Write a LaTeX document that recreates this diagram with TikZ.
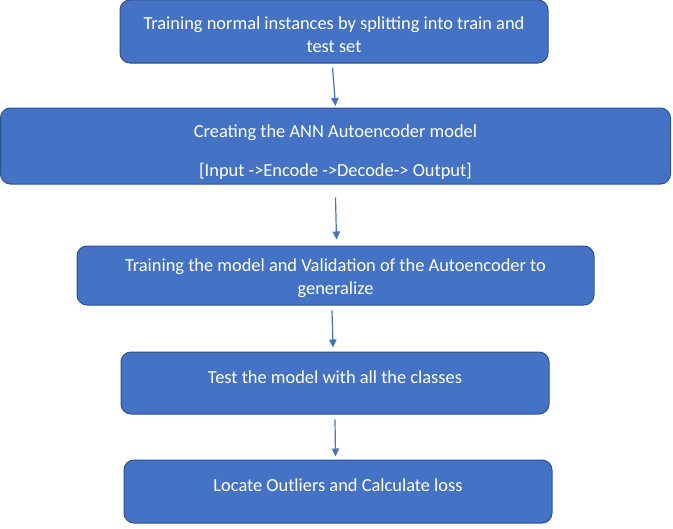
\documentclass[tikz,border=0pt]{standalone}
\usepackage{fontspec}
\setmainfont{Carlito}
\usetikzlibrary{arrows.meta,calc}
\definecolor{boxfill}{HTML}{4472C4}
\definecolor{boxline}{HTML}{2F528F}
\newcommand{\shiftedtext}[2]{\raisebox{#1}[0pt][0pt]{\begin{tabular}{@{}c@{}}#2\end{tabular}}}
\begin{document}
\begin{tikzpicture}[x=0.75pt,y=-0.75pt,
  stepbox/.style={draw=boxline,line width=0.75pt,fill=boxfill,rounded corners=7.5pt,
    text=white,align=center,inner sep=0pt,font=\fontsize{13.8pt}{17.5pt}\selectfont},
  arr/.style={draw=boxfill,line width=0.9pt,-{Triangle[length=6pt,width=5.5pt]}}]
\useasboundingbox (0,0) rectangle (673,528);
\node[stepbox,minimum width=428*0.75pt,minimum height=63*0.75pt] (b1) at (334,31.5)
  {\shiftedtext{-7pt}{Training normal instances by splitting into train and\\test set}};
\node[stepbox,minimum width=670*0.75pt,minimum height=76*0.75pt] (b2) at (335.5,146)
  {\shiftedtext{-8.25pt}{Creating the ANN Autoencoder model\\[11.25pt][Input ->Encode ->Decode-> Output]}};
\node[stepbox,minimum width=517*0.75pt,minimum height=59*0.75pt] (b3) at (335.5,275.5)
  {\shiftedtext{-5.8pt}{Training the model and Validation of the Autoencoder to\\generalize}};
\node[stepbox,minimum width=428*0.75pt,minimum height=62*0.75pt] (b4) at (335,383)
  {\raisebox{-0.25pt}[0pt][0pt]{Test the model with all the classes}};
\node[stepbox,minimum width=428*0.75pt,minimum height=63*0.75pt] (b5) at (338,491.5)
  {\raisebox{-0.25pt}[0pt][0pt]{Locate Outliers and Calculate loss}};
\draw[arr] ($(b1.south)+(-1.5,4)$) -- ($(b2.north)+(0,-1.5)$);
\draw[arr] ($(b2.south)+(0,13)$) -- ($(b3.north)+(1,-6)$);
\draw[arr] ($(b3.south)+(-3.5,5)$) -- ($(b4.north)+(-2,-4)$);
\draw[arr] ($(b4.south)+(0,5)$) -- ($(b5.north)+(-2.5,-3)$);
\end{tikzpicture}
\end{document}
